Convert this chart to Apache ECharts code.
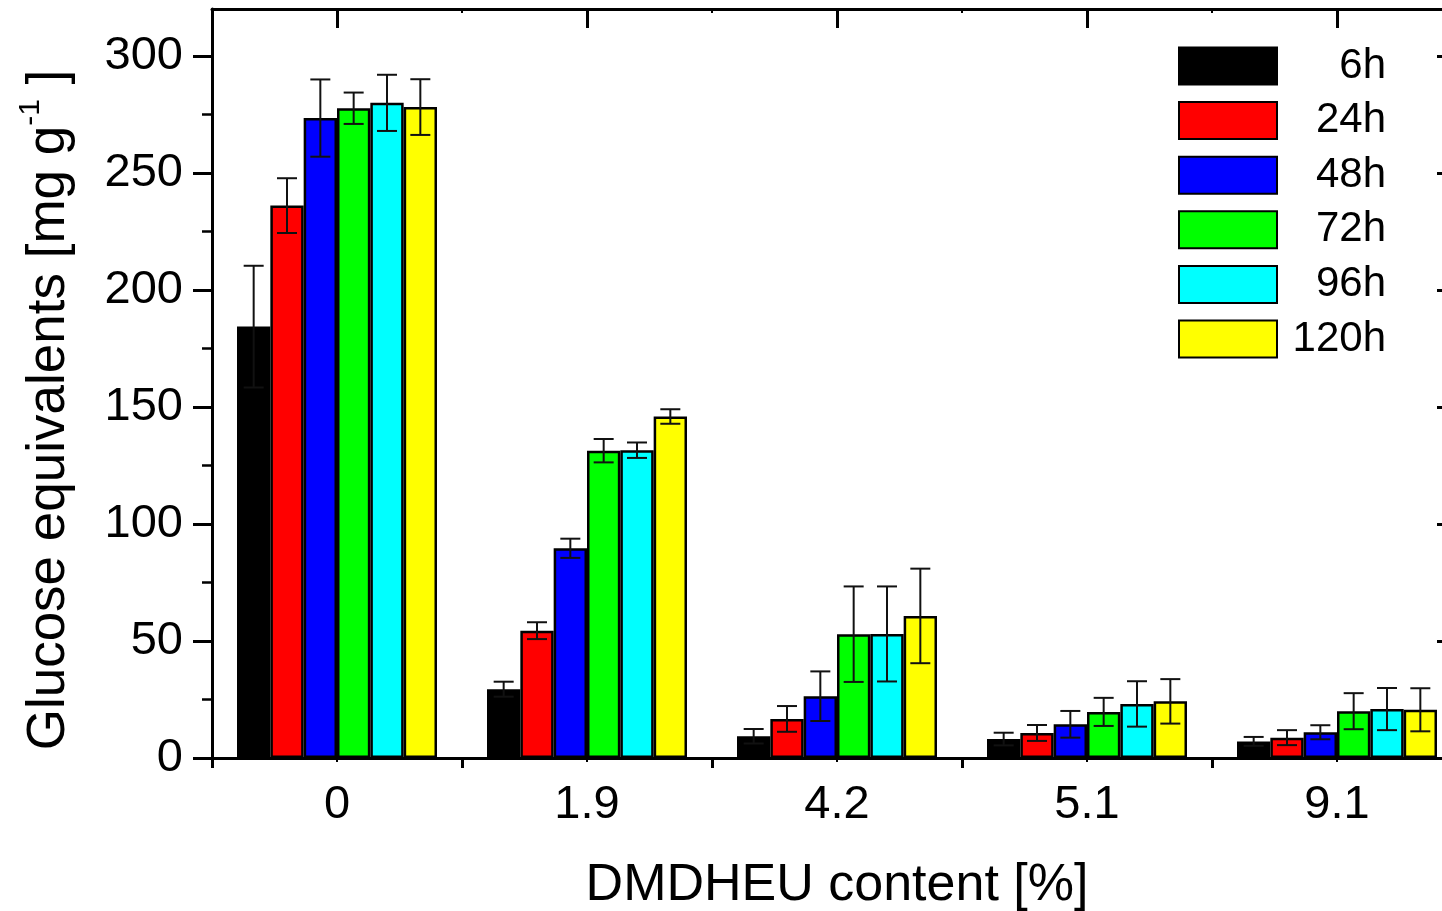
<!DOCTYPE html>
<html>
<head>
<meta charset="utf-8">
<script src="https://cdn.jsdelivr.net/npm/echarts@6/dist/echarts.min.js"></script>
<style>
  html, body { margin: 0; padding: 0; background: #fff; overflow: hidden; }
  #chart { width: 1480px; height: 911px; }
</style>
</head>
<body>
<div id="chart"></div>
<script>
// DMDHEU content categories and incubation times
const categories = ['0', '1.9', '4.2', '5.1', '9.1'];
const times = ['6h', '24h', '48h', '72h', '96h', '120h'];
const colors = ['#000000', '#ff0000', '#0000ff', '#00ff00', '#00ffff', '#ffff00'];

// Glucose equivalents [mg g-1], one array per time, ordered like categories
const mean6h   = [184.3, 29.4, 9.3, 8.1, 7.1];
const mean24h  = [236.0, 54.4, 16.7, 10.7, 8.7];
const mean48h  = [273.4, 89.6, 26.4, 14.4, 11.0];
const mean72h  = [277.6, 131.3, 52.9, 19.7, 20.0];
const mean96h  = [279.9, 131.5, 53.0, 23.1, 20.9];
const mean120h = [278.1, 145.9, 60.7, 24.2, 20.6];

// Standard deviations (symmetric error bars)
const sd6h   = [26.0, 3.2, 3.1, 2.7, 1.9];
const sd24h  = [11.7, 3.6, 5.5, 3.4, 3.2];
const sd48h  = [16.5, 4.1, 10.6, 5.7, 3.0];
const sd72h  = [6.7, 5.0, 20.4, 6.0, 7.7];
const sd96h  = [12.0, 3.3, 20.3, 9.7, 9.0];
const sd120h = [11.9, 3.1, 20.2, 9.5, 9.2];

const yMajorTicks = [0, 50, 100, 150, 200, 250, 300];
const yMinorTicks = [25, 75, 125, 175, 225, 275];
// positions on the frame's x scale (category index units)
const xCenterTicks = [0, 1, 2, 3, 4];
const xBoundaryTicks = [0.5, 1.5, 2.5, 3.5];

const means = [mean6h, mean24h, mean48h, mean72h, mean96h, mean120h];
const sds = [sd6h, sd24h, sd48h, sd72h, sd96h, sd120h];

const FONT = '"Liberation Sans", Arial, sans-serif';
const GAP = 0.2;          // barCategoryGap
const NBARS = times.length;

const barSeries = times.map((t, k) => ({
  name: t,
  type: 'bar',
  xAxisIndex: 0,
  yAxisIndex: 0,
  data: means[k],
  barGap: '0%',
  barCategoryGap: (GAP * 100) + '%',
  itemStyle: { color: colors[k], borderColor: '#000', borderWidth: 2.5 },
  z: 2
}));

const errSeries = times.map((t, k) => ({
  type: 'custom',
  xAxisIndex: 0,
  yAxisIndex: 0,
  z: 4,
  silent: true,
  encode: { x: 0, y: 1 },
  data: means[k].map((v, i) => [i, v, sds[k][i]]),
  renderItem: function (params, api) {
    const ci = api.value(0), v = api.value(1), e = api.value(2);
    const band = api.size([1, 0])[0];
    const bw = band * (1 - GAP) / NBARS;
    const base = api.coord([ci, v]);
    const x = base[0] + (k - (NBARS - 1) / 2) * bw;
    const yHi = api.coord([ci, v + e])[1];
    const yLo = api.coord([ci, v - e])[1];
    const cap = bw * 0.3;
    const st = { stroke: '#111', lineWidth: 2 };
    return {
      type: 'group',
      children: [
        { type: 'line', shape: { x1: x, y1: yHi, x2: x, y2: yLo }, style: st },
        { type: 'line', shape: { x1: x - cap, y1: yHi, x2: x + cap, y2: yHi }, style: st },
        { type: 'line', shape: { x1: x - cap, y1: yLo, x2: x + cap, y2: yLo }, style: st }
      ]
    };
  }
}));

const axisLineStyle = { color: '#000', width: 3 };

// helper x axis spanning the same range as the category axis;
// top ticks hang into the plot by shifting the axis down by their length
function frameAxis(position, ticks, len, width, showLine, offset) {
  return {
    type: 'value', position: position, min: -0.5, max: categories.length - 0.5,
    offset: offset,
    axisLine: { show: showLine, onZero: false, lineStyle: axisLineStyle },
    axisTick: ticks ? { show: true, inside: false, length: len, customValues: ticks, lineStyle: { width: width, color: '#000' } } : { show: false },
    axisLabel: { show: false }, splitLine: { show: false }
  };
}

// value axis for the glucose scale
function valueAxis(position, ticks, len, inside, width, showLine, label) {
  return {
    type: 'value', position: position, min: 0, max: 320, interval: 50,
    axisLine: { show: showLine, onZero: false, lineStyle: axisLineStyle },
    axisTick: { show: true, inside: inside, length: len, customValues: ticks, lineStyle: { width: width, color: '#000' } },
    axisLabel: label ? { fontSize: 47, color: '#000', margin: 29, customValues: ticks, fontFamily: FONT } : { show: false },
    splitLine: { show: false }
  };
}

const option = {
  animation: false,
  backgroundColor: '#fff',
  textStyle: { fontFamily: FONT, color: '#000' },
  grid: { left: 212, right: 18, top: 9, bottom: 153, containLabel: false, outerBoundsMode: 'none' },
  legend: {
    orient: 'vertical',
    left: 1178,
    top: 45,
    padding: 0,
    itemWidth: 98,
    itemHeight: 37,
    itemGap: 12.6,
    icon: 'rect',
    data: times,
    formatter: name => '{t|' + name + '}',
    textStyle: {
      fontFamily: FONT,
      rich: { t: { width: 104, align: 'right', fontSize: 42, lineHeight: 37, color: '#000', fontFamily: FONT } }
    }
  },
  xAxis: [
    {
      type: 'category', data: categories, position: 'bottom',
      axisLine: { onZero: false, lineStyle: axisLineStyle },
      axisTick: { show: true, interval: 0, alignWithLabel: false, inside: false, length: 10, lineStyle: { width: 3, color: '#000' } },
      axisLabel: { interval: 0, fontSize: 47, color: '#000', margin: 24, fontFamily: FONT },
      name: 'DMDHEU content [%]', nameLocation: 'middle', nameGap: 102,
      nameTextStyle: { fontSize: 52, color: '#000', fontFamily: FONT },
      splitLine: { show: false }
    },
    frameAxis('bottom', xCenterTicks, 4, 2, false, 0),
    frameAxis('top', xCenterTicks, 19, 3, false, -19),
    frameAxis('top', xBoundaryTicks, 4, 2, false, -4),
    frameAxis('top', null, 0, 0, true, 0)
  ],
  yAxis: [
    valueAxis('left', yMajorTicks, 19, false, 3, true, true),
    valueAxis('left', yMinorTicks, 10, false, 2.5, false, false),
    valueAxis('right', yMajorTicks, 25, true, 3, true, false)
  ],
  graphic: [
    {
      type: 'text',
      x: 46, y: 410,
      rotation: Math.PI / 2,
      style: {
        text: '{m|Glucose equivalents [mg g}{s|-1}{m| ]}',
        align: 'center', verticalAlign: 'middle',
        fill: '#000',
        rich: {
          m: { fontSize: 53, fontFamily: FONT, fill: '#000', lineHeight: 60, verticalAlign: 'bottom' },
          s: { fontSize: 30, fontFamily: FONT, fill: '#000', lineHeight: 60, verticalAlign: 'top', padding: [0, 0, 24, 0] }
        }
      }
    }
  ],
  series: barSeries.concat(errSeries)
};

const chart = echarts.init(document.getElementById('chart'), null, { renderer: 'canvas' });
chart.setOption(option);
</script>
</body>
</html>
